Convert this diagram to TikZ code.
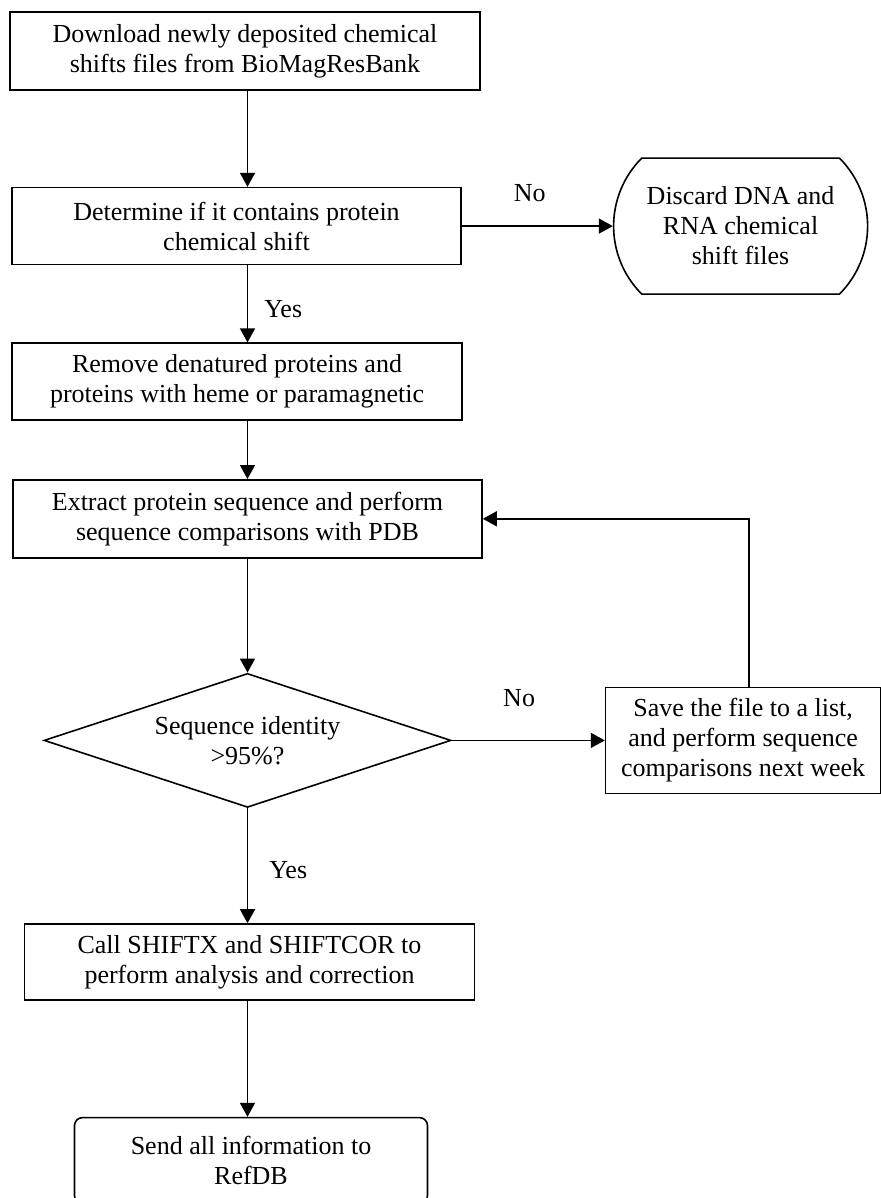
\documentclass[tikz,border=0pt]{standalone}
\usepackage{fontspec}
\setmainfont{Liberation Serif}
\usepackage{tikz}
\usetikzlibrary{shapes.geometric,shapes.misc,arrows.meta,positioning,calc}
\tikzstyle{block} = [rectangle, draw=black, line width=1.6pt, align=center,
    inner sep=0pt, font=\fontsize{26}{30}\selectfont]
\tikzstyle{decision} = [diamond, aspect=3, draw=black, line width=1.6pt, align=center,
    inner sep=0pt, font=\fontsize{26}{30}\selectfont]
\tikzstyle{terminal} = [rounded rectangle, rounded rectangle arc length=90, draw=black,
    line width=1.6pt, align=center, inner sep=0pt, font=\fontsize{26}{30}\selectfont]
\tikzstyle{lbl} = [inner sep=0pt, font=\fontsize{26}{30}\selectfont]
\tikzstyle{arrow} = [line width=1.6pt,-{Triangle[length=14pt,width=15pt]}]
\begin{document}
\begin{tikzpicture}[x=1pt,y=-1pt]
\useasboundingbox (0,0) rectangle (880,1198);
% Download
\node[block, minimum width=470pt, minimum height=78pt] (download) at (245,51) {Download newly deposited chemical\\shifts files from BioMagResBank};
% Protein test
\node[block, minimum width=449pt, minimum height=77pt, below=96pt of download, xshift=-8.5pt] (protein) {Determine if it contains protein\\chemical shift};
% Discard
\node[terminal, minimum width=254pt, minimum height=136pt, right=151pt of protein] (discard) {Discard DNA and\\RNA chemical\\shift files};
% Remove
\node[block, minimum width=450pt, minimum height=77pt, below=77pt of protein, xshift=0.5pt] (remove) {Remove denatured proteins and\\proteins with heme or paramagnetic};
% Extract
\node[block, minimum width=469pt, minimum height=78pt, below=58pt of remove, xshift=10.5pt] (extract) {Extract protein sequence and perform\\sequence comparisons with PDB};
% Identity check
\node[decision, minimum width=407pt, minimum height=134pt, below=114pt of extract] (check) {Sequence identity\\>95\%?};
% Save for later
\node[block, minimum width=275pt, minimum height=106pt, right=153pt of check] (save) {Save the file to a list,\\and perform sequence\\comparisons next week};
% SHIFTX
\node[block, minimum width=450pt, minimum height=76pt, below=115pt of check, xshift=2pt] (shiftx) {Call SHIFTX and SHIFTCOR to\\perform analysis and correction};
% RefDB
\node[block, rounded corners=8pt, minimum width=353pt, minimum height=86pt, below=116pt of shiftx, xshift=1.5pt] (send) {Send all information to\\RefDB};
% Arrows
\draw[arrow] (download.south -| check) -- (protein.north -| check);
\draw[arrow] (protein.east) -- node[lbl, above=24pt, pos=0.45] (no1) {No} (discard.west);
\draw[arrow] (protein.south -| check) -- node[lbl, right=16pt, pos=0.57] (yes1) {Yes} (remove.north -| check);
\draw[arrow] (remove.south -| check) -- (extract.north -| check);
\draw[arrow] (extract.south -| check) -- (check.north);
\draw[arrow] (check.east) -- node[lbl, above=33pt, pos=0.44] (no2) {No} (save.west);
\draw[arrow] ([xshift=6pt]save.north) |- (extract.east);
\draw[arrow] (check.south) -- node[lbl, right=21pt, pos=0.54] (yes2) {Yes} (shiftx.north -| check);
\draw[arrow] (shiftx.south -| check) -- (send.north -| check);
\end{tikzpicture}
\end{document}
